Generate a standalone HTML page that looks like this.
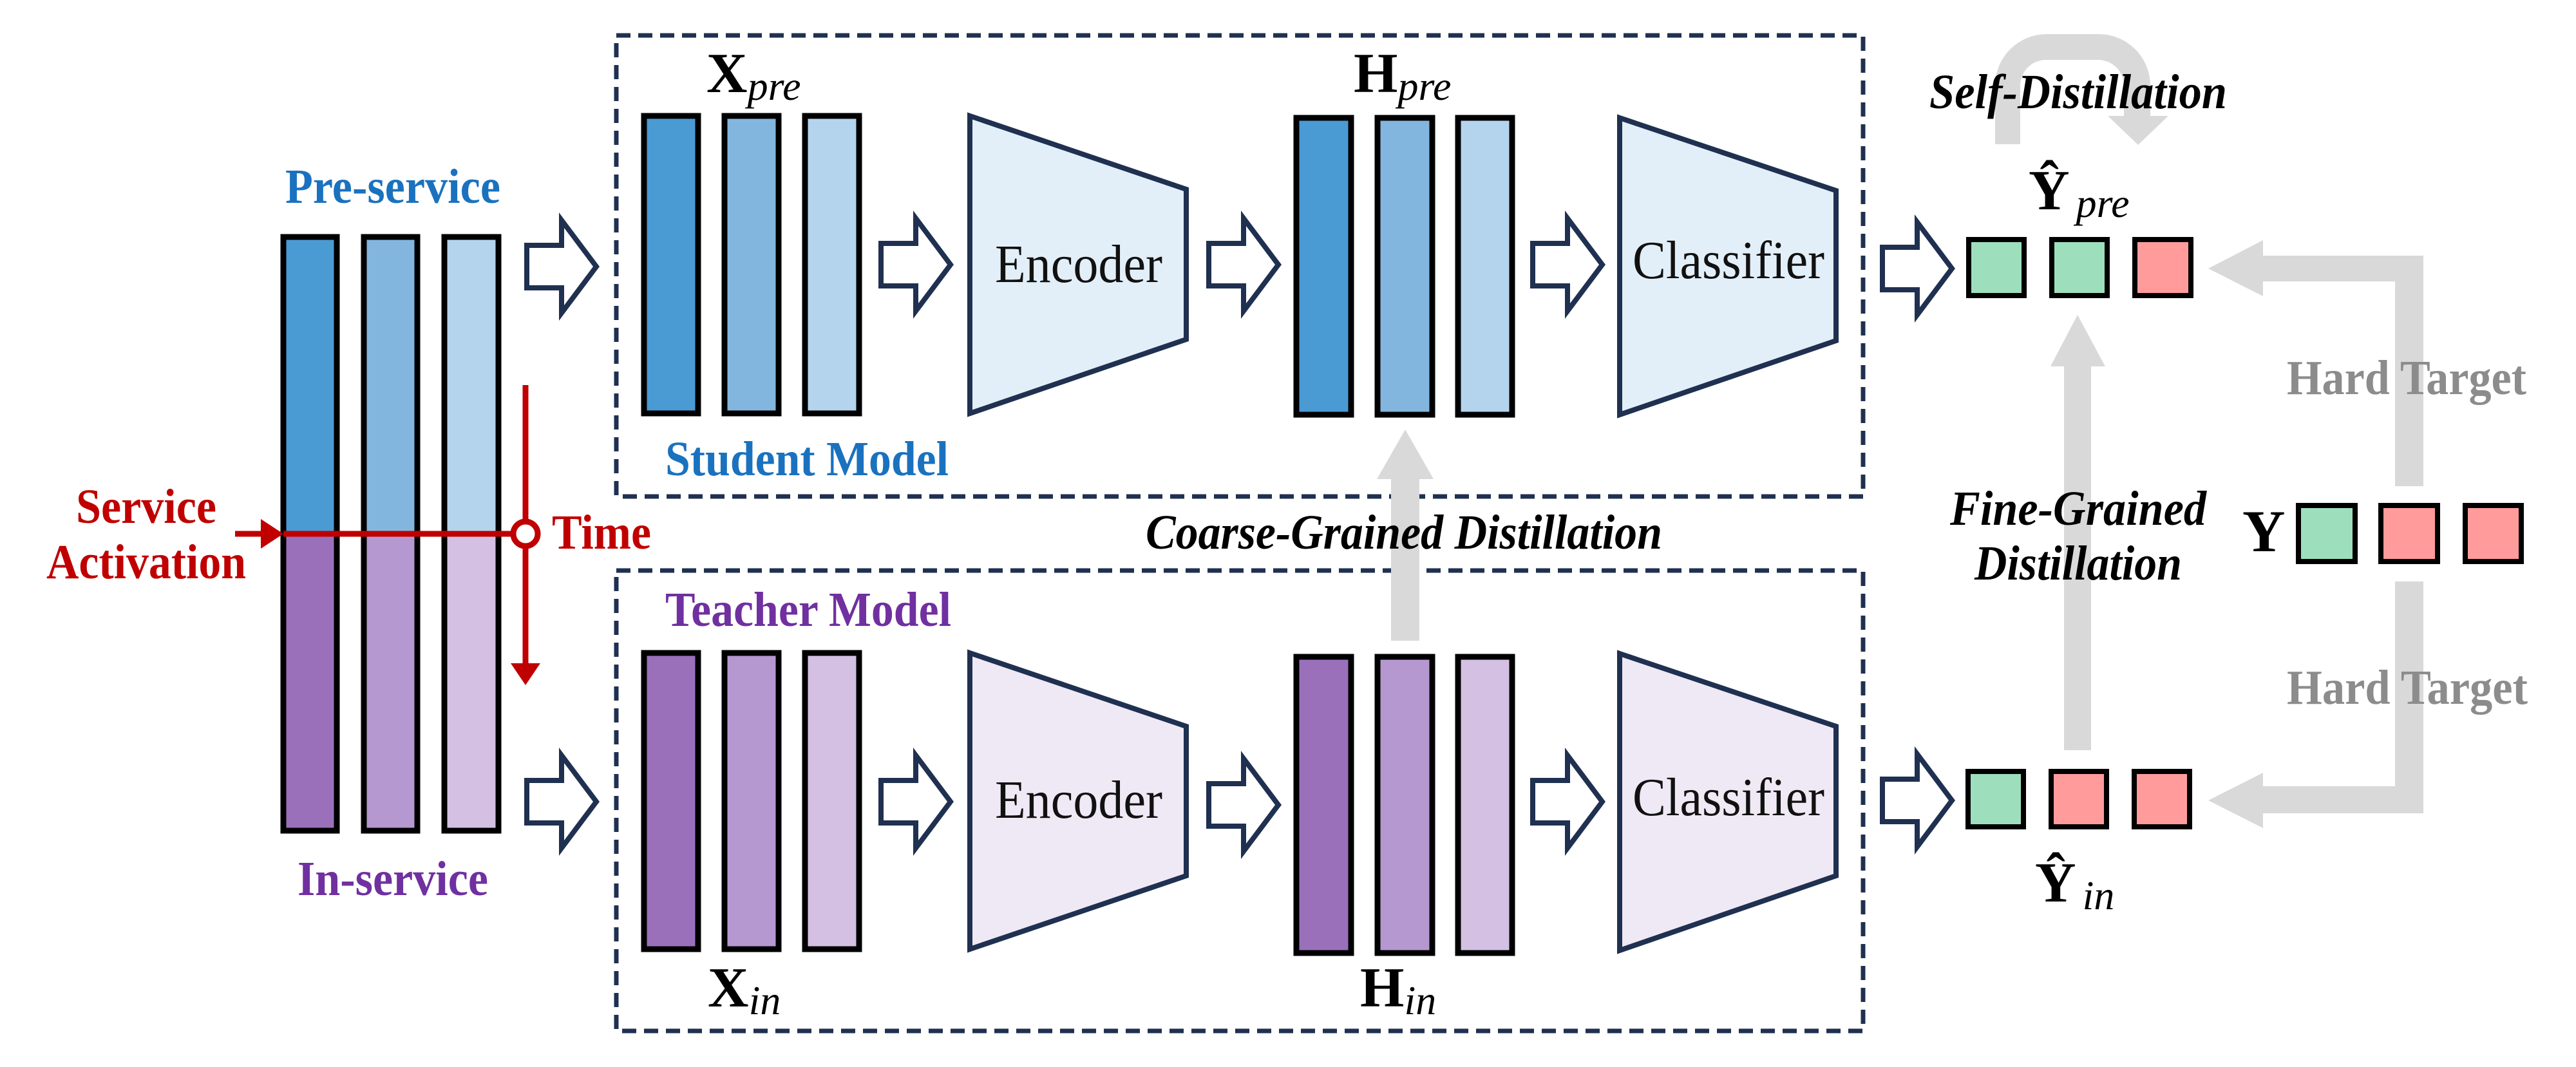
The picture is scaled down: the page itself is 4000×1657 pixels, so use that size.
<!DOCTYPE html>
<html><head><meta charset="utf-8"><style>html,body{margin:0;padding:0;background:#fff}svg{display:block}svg text,svg tspan{font-family:"Liberation Serif","DejaVu Serif","Times New Roman",serif !important}</style></head>
<body>
<svg width="4000" height="1657" viewBox="0 0 4000 1657" xmlns="http://www.w3.org/2000/svg">
<defs>
<g id="harr"><path d="M0,-33 H54 V-72 L108,0 L54,72 V33 H0 Z" fill="#fff" stroke="#1f3050" stroke-width="8" stroke-linejoin="miter"/></g>
</defs>
<rect x="957" y="55" width="1936" height="716" fill="none" stroke="#1f3050" stroke-width="7" stroke-dasharray="22,12"/>
<rect x="957" y="886" width="1936" height="715" fill="none" stroke="#1f3050" stroke-width="7" stroke-dasharray="22,12"/>

<g stroke="#000" stroke-width="9">
<rect x="440" y="368" width="83" height="461" fill="#4a9ad4"/>
<rect x="565" y="368" width="83" height="461" fill="#82b6de"/>
<rect x="690" y="368" width="84" height="461" fill="#b4d4ee"/>
<rect x="440" y="829" width="83" height="461" fill="#9a70bb"/>
<rect x="565" y="829" width="83" height="461" fill="#b598d0"/>
<rect x="690" y="829" width="84" height="461" fill="#d4c0e2"/>
</g>
<text x="610" y="315" font-size="76" font-weight="bold" fill="#1a72bf" text-anchor="middle" textLength="334" lengthAdjust="spacingAndGlyphs">Pre-service</text>
<text x="610" y="1390" font-size="76" font-weight="bold" fill="#7030a0" text-anchor="middle" textLength="296" lengthAdjust="spacingAndGlyphs">In-service</text>
<text x="227" y="812" font-size="76" font-weight="bold" fill="#c00000" text-anchor="middle" textLength="218" lengthAdjust="spacingAndGlyphs">Service</text>
<text x="227" y="898" font-size="76" font-weight="bold" fill="#c00000" text-anchor="middle" textLength="310" lengthAdjust="spacingAndGlyphs">Activation</text>
<line x1="365" y1="829" x2="420" y2="829" stroke="#c00000" stroke-width="9"/>
<path d="M405,806 L440,829 L405,852 Z" fill="#c00000"/>
<line x1="440" y1="829" x2="796" y2="829" stroke="#c00000" stroke-width="9"/>
<line x1="816" y1="598" x2="816" y2="1035" stroke="#c00000" stroke-width="9"/>
<path d="M793,1030 L839,1030 L816,1064 Z" fill="#c00000"/>
<circle cx="816" cy="829" r="19" fill="#fff" stroke="#c00000" stroke-width="9"/>
<text x="857" y="852" font-size="76" font-weight="bold" fill="#c00000" textLength="154" lengthAdjust="spacingAndGlyphs">Time</text>

<use href="#harr" x="818" y="414"/>
<use href="#harr" x="818" y="1245"/>
<use href="#harr" x="1368" y="411"/>
<use href="#harr" x="1368" y="1245"/>
<use href="#harr" x="1877" y="411"/>
<use href="#harr" x="1877" y="1250"/>
<use href="#harr" x="2380" y="411"/>
<use href="#harr" x="2380" y="1245"/>
<use href="#harr" x="2923" y="417"/>
<use href="#harr" x="2923" y="1243"/>

<g stroke="#000" stroke-width="9">
<rect x="1000" y="180" width="84" height="462" fill="#4a9ad4"/>
<rect x="1125" y="180" width="84" height="462" fill="#82b6de"/>
<rect x="1250" y="180" width="84" height="462" fill="#b4d4ee"/>
<rect x="1000" y="1014" width="84" height="460" fill="#9a70bb"/>
<rect x="1125" y="1014" width="84" height="460" fill="#b598d0"/>
<rect x="1250" y="1014" width="84" height="460" fill="#d4c0e2"/>
<rect x="2013" y="183" width="85" height="461" fill="#4a9ad4"/>
<rect x="2139" y="183" width="85" height="461" fill="#82b6de"/>
<rect x="2264" y="183" width="84" height="461" fill="#b4d4ee"/>
<rect x="2013" y="1020" width="85" height="460" fill="#9a70bb"/>
<rect x="2139" y="1020" width="85" height="460" fill="#b598d0"/>
<rect x="2264" y="1020" width="84" height="460" fill="#d4c0e2"/>
</g>

<g stroke="#1f3050" stroke-width="8">
<path d="M1506,180 L1842,294 L1842,527 L1506,642 Z" fill="#e3eff8"/>
<path d="M1506,1014 L1842,1128 L1842,1360 L1506,1474 Z" fill="#efe9f5"/>
<path d="M2515,183 L2851,296 L2851,529 L2515,644 Z" fill="#e3eff8"/>
<path d="M2515,1015 L2851,1128 L2851,1360 L2515,1476 Z" fill="#efe9f5"/>
</g>
<g font-size="84" fill="#111" text-anchor="middle">
<text x="1675" y="438" textLength="260" lengthAdjust="spacingAndGlyphs">Encoder</text>
<text x="1675" y="1270" textLength="260" lengthAdjust="spacingAndGlyphs">Encoder</text>
<text x="2684" y="432" textLength="298" lengthAdjust="spacingAndGlyphs">Classifier</text>
<text x="2684" y="1266" textLength="298" lengthAdjust="spacingAndGlyphs">Classifier</text>
</g>
<text x="1033" y="738" font-size="76" font-weight="bold" fill="#1a72bf" textLength="440" lengthAdjust="spacingAndGlyphs">Student Model</text>
<text x="1033" y="972" font-size="76" font-weight="bold" fill="#7030a0" textLength="444" lengthAdjust="spacingAndGlyphs">Teacher Model</text>

<g fill="#000">
<text x="1097" y="143" font-size="88" font-weight="bold">X<tspan font-size="64" font-weight="normal" font-style="italic" dy="12">pre</tspan></text>
<text x="1099" y="1563" font-size="88" font-weight="bold">X<tspan font-size="64" font-weight="normal" font-style="italic" dy="12">in</tspan></text>
<text x="2102" y="143" font-size="88" font-weight="bold">H<tspan font-size="64" font-weight="normal" font-style="italic" dy="12">pre</tspan></text>
<text x="2112" y="1563" font-size="88" font-weight="bold">H<tspan font-size="64" font-weight="normal" font-style="italic" dy="12">in</tspan></text>
<text x="3150" y="325" font-size="88" font-weight="bold">Ŷ<tspan font-size="64" font-weight="normal" font-style="italic" dx="10" dy="12">pre</tspan></text>
<text x="3160" y="1400" font-size="88" font-weight="bold">Ŷ<tspan font-size="64" font-weight="normal" font-style="italic" dx="10" dy="12">in</tspan></text>
<text x="3482" y="856" font-size="92" font-weight="bold">Y</text>
</g>

<g fill="#d9d9d9">
<rect x="2160" y="740" width="44" height="255"/>
<path d="M2138,744 L2226,744 L2182,667 Z"/>
<rect x="3205" y="565" width="42" height="600"/>
<path d="M3184,569 L3269,569 L3226,489 Z"/>
<path d="M3719,755 V437 H3510 V397 H3763 V755 Z"/>
<path d="M3514,373 L3514,460 L3429,417 Z"/>
<path d="M3719,903 V1221 H3510 V1263 H3763 V903 Z"/>
<path d="M3514,1200 L3514,1286 L3429,1243 Z"/>
<path d="M3098,224 V133 A80,80 0 0 1 3178,53 H3259 A80,80 0 0 1 3339,133 V180 H3298 V133 A40,40 0 0 0 3258,93 H3178 A40,40 0 0 0 3137,133 V224 Z"/>
<path d="M3273,180 L3367,180 L3320,225 Z"/>
</g>

<g stroke="#000" stroke-width="8">
<rect x="3057" y="372" width="86" height="87" fill="#9ddfbc"/>
<rect x="3186" y="372" width="86" height="87" fill="#9ddfbc"/>
<rect x="3315" y="372" width="87" height="87" fill="#ff9b9b"/>
<rect x="3056" y="1198" width="86" height="86" fill="#9ddfbc"/>
<rect x="3185" y="1198" width="86" height="86" fill="#ff9b9b"/>
<rect x="3314" y="1198" width="86" height="86" fill="#ff9b9b"/>
<rect x="3569" y="785" width="88" height="87" fill="#9ddfbc"/>
<rect x="3697" y="785" width="88" height="87" fill="#ff9b9b"/>
<rect x="3828" y="785" width="87" height="87" fill="#ff9b9b"/>
</g>

<g font-size="76" font-weight="bold" font-style="italic" fill="#000" text-anchor="middle">
<text x="2180" y="852" textLength="802" lengthAdjust="spacingAndGlyphs">Coarse-Grained Distillation</text>
<text x="3227" y="168" textLength="462" lengthAdjust="spacingAndGlyphs">Self-Distillation</text>
<text x="3227" y="815" textLength="398" lengthAdjust="spacingAndGlyphs">Fine-Grained</text>
<text x="3227" y="900" textLength="322" lengthAdjust="spacingAndGlyphs">Distillation</text>
</g>
<g font-size="76" font-weight="bold" fill="#8c8c8c" text-anchor="middle">
<text x="3737" y="612" textLength="372" lengthAdjust="spacingAndGlyphs">Hard Target</text>
<text x="3738" y="1093" textLength="374" lengthAdjust="spacingAndGlyphs">Hard Target</text>
</g>
</svg>
</body></html>
